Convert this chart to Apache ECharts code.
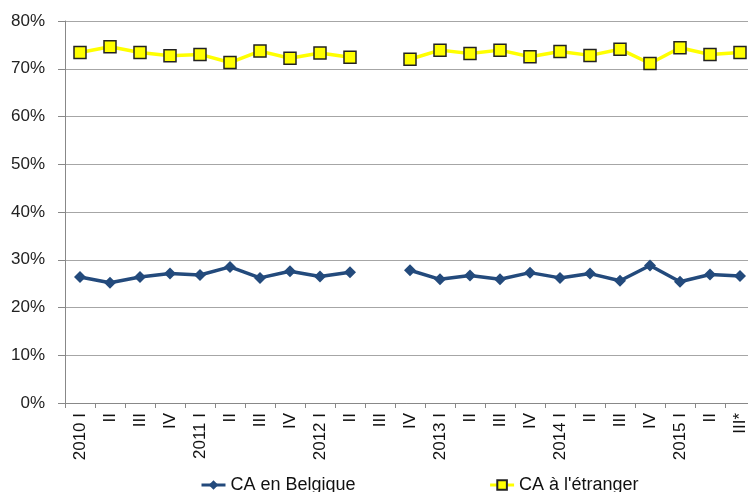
<!DOCTYPE html>
<html>
<head>
<meta charset="utf-8">
<script src="https://cdn.jsdelivr.net/npm/echarts@6/dist/echarts.min.js"></script>
<style>
html,body{margin:0;padding:0;background:#fff;}
#chart{width:748px;height:492px;}
</style>
</head>
<body>
<div id="chart"></div>
<script>
var quarters = ['2010 I','II','III','IV','2011 I','II','III','IV','2012 I','II','III','IV',
    '2013 I','II','III','IV','2014 I','II','III','IV','2015 I','II','III*'];
// part du chiffre d'affaires (%)
var caBelgique = [26.4,25.2,26.4,27.1,26.8,28.5,26.2,27.6,26.5,27.4,null,27.8,
    25.9,26.7,25.9,27.3,26.2,27.1,25.6,28.8,25.4,26.9,26.6];
var caEtranger = [73.4,74.6,73.4,72.7,73.0,71.3,73.7,72.2,73.3,72.4,null,72.0,
    73.9,73.2,73.9,72.5,73.6,72.8,74.1,71.1,74.4,73.0,73.4];
var yTicks = [0,10,20,30,40,50,60,70,80];

var font = 'Arial, "Liberation Sans", sans-serif';
var myChart = echarts.init(document.getElementById('chart'));
var option = {
    animation: false,
    grid: { left: 65, width: 690, top: 21, height: 382, outerBoundsMode: 'none', containLabel: false },
    legend: {
        top: 471,
        left: 195,
        itemGap: 133,
        itemWidth: 24,
        itemHeight: 12,
        lineStyle: { width: 3 },
        textStyle: { fontFamily: font, fontSize: 18, color: '#111' },
        data: ['CA en Belgique', "CA à l'étranger"]
    },
    xAxis: {
        type: 'category',
        data: quarters,
        boundaryGap: true,
        axisLine: { lineStyle: { color: '#888', width: 1 } },
        axisTick: { show: true, length: 5, lineStyle: { color: '#888' } },
        axisLabel: {
            rotate: 90,
            interval: 0,
            margin: 10,
            fontFamily: font,
            fontSize: 17,
            color: '#111'
        }
    },
    yAxis: {
        type: 'value',
        min: yTicks[0],
        max: yTicks[yTicks.length - 1],
        interval: 10,
        axisLine: { show: true, lineStyle: { color: '#888' } },
        axisTick: { show: true, length: 7, lineStyle: { color: '#888' } },
        axisLabel: {
            margin: 20,
            fontFamily: font,
            fontSize: 17,
            color: '#222',
            formatter: '{value}%'
        },
        splitLine: { lineStyle: { color: '#a6a6a6', width: 1 } }
    },
    series: [
        {
            name: 'CA en Belgique',
            type: 'line',
            data: caBelgique,
            symbol: 'diamond',
            symbolSize: 12,
            lineStyle: { color: '#234a7c', width: 3.5 },
            itemStyle: { color: '#234a7c' }
        },
        {
            name: "CA à l'étranger",
            type: 'line',
            data: caEtranger,
            symbol: 'rect',
            symbolSize: 12,
            lineStyle: { color: '#ffff00', width: 3.5 },
            itemStyle: { color: '#ffff00', borderColor: '#222', borderWidth: 1.5 }
        }
    ]
};
myChart.setOption(option);
</script>
</body>
</html>
